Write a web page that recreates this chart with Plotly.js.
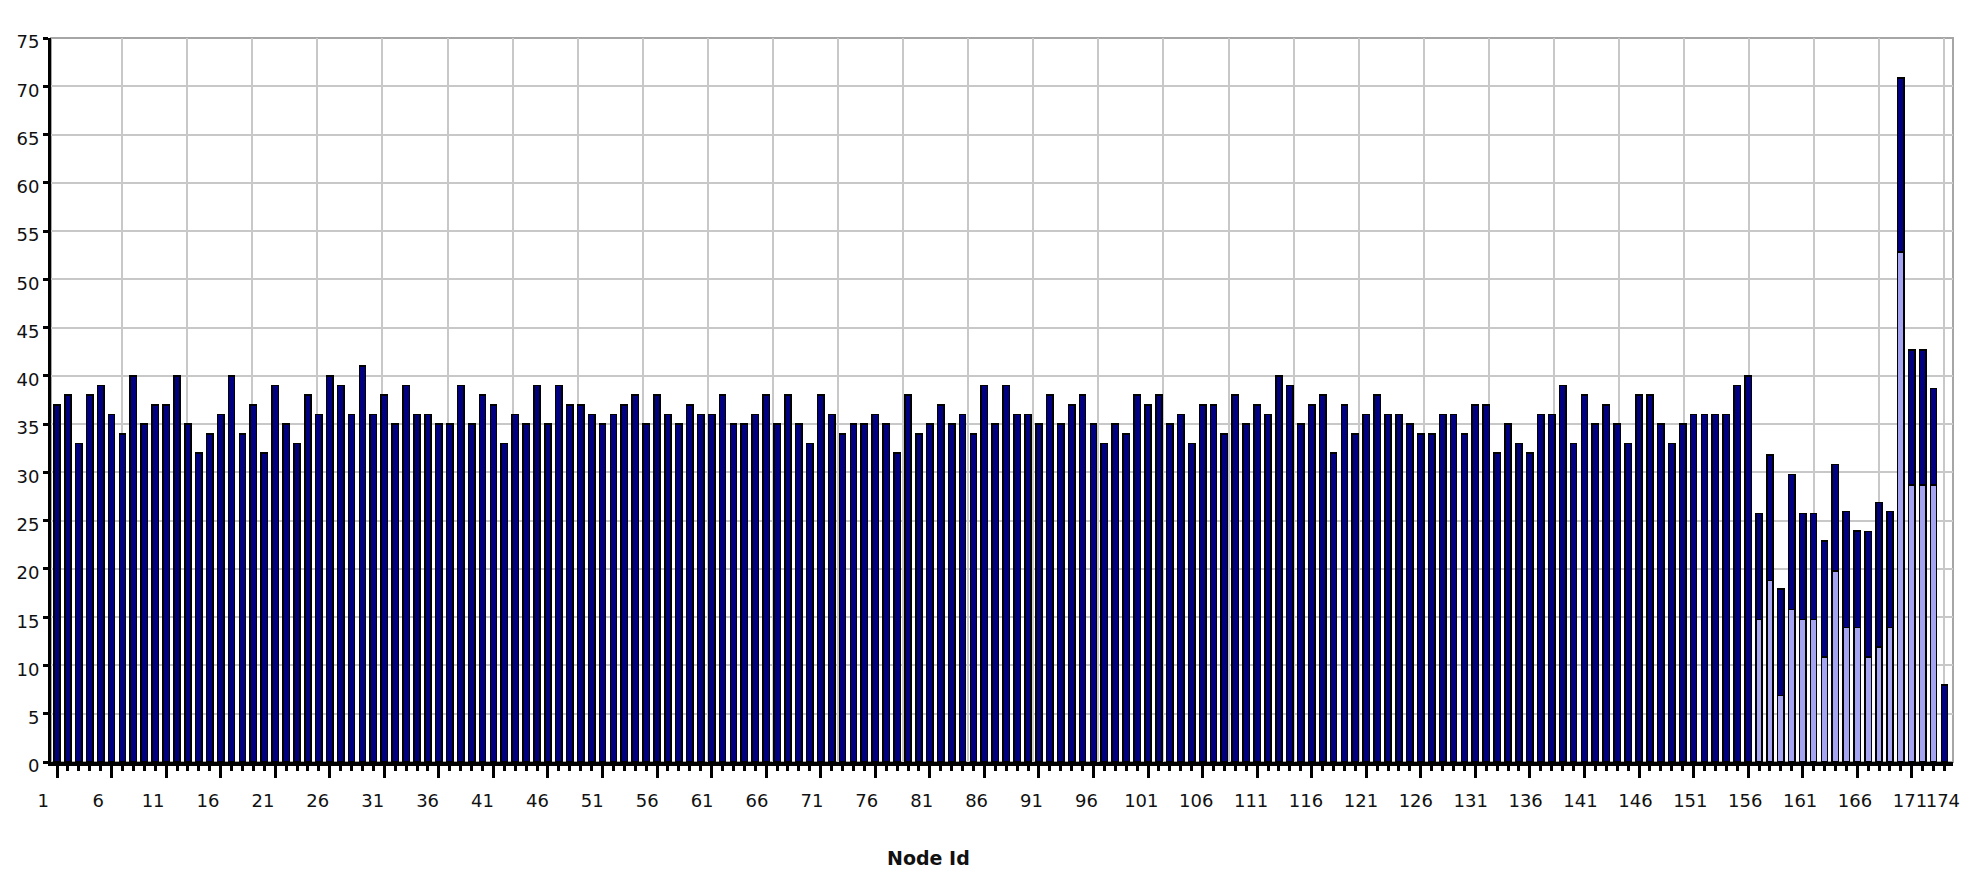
<!DOCTYPE html>
<html>
<head>
<meta charset="utf-8">
<script src="https://cdn.plot.ly/plotly-3.0.1.min.js"></script>
<style>
html, body { margin: 0; padding: 0; background: #ffffff; }
#chart { width: 1979px; height: 888px; }
</style>
</head>
<body>
<div id="chart"></div>
<script>
// ---- data ----
const nodeIds = Array.from({ length: 174 }, (_, i) => i + 1);

// upper (dark) segment of each bar
const darkValues = [
  37, 38, 33, 38, 39, 36, 34, 40, 35, 37, 37, 40, 35, 32, 34, 36, 40, 34, 37, 32, 39, 35, 33, 38, 36, 40, 39, 36, 41, 36,
  38, 35, 39, 36, 36, 35, 35, 39, 35, 38, 37, 33, 36, 35, 39, 35, 39, 37, 37, 36, 35, 36, 37, 38, 35, 38, 36, 35, 37, 36,
  36, 38, 35, 35, 36, 38, 35, 38, 35, 33, 38, 36, 34, 35, 35, 36, 35, 32, 38, 34, 35, 37, 35, 36, 34, 39, 35, 39, 36, 36,
  35, 38, 35, 37, 38, 35, 33, 35, 34, 38, 37, 38, 35, 36, 33, 37, 37, 34, 38, 35, 37, 36, 40, 39, 35, 37, 38, 32, 37, 34,
  36, 38, 36, 36, 35, 34, 34, 36, 36, 34, 37, 37, 32, 35, 33, 32, 36, 36, 39, 33, 38, 35, 37, 35, 33, 38, 38, 35, 33, 35,
  36, 36, 36, 36, 39, 40, 11, 13, 11, 14, 11, 11, 12, 11, 12, 10, 13, 15, 12, 18, 14, 14, 10, 8
];

// lower (light) segment, only present for these nodes
const lightIds = [157, 158, 159, 160, 161, 162, 163, 164, 165, 166, 167, 168, 169, 170, 171, 172, 173];
const lightValues = [14.75, 18.8, 6.9, 15.8, 14.75, 14.75, 10.9, 19.8, 13.95, 13.95, 10.9, 11.9, 13.95, 52.85, 28.7, 28.7, 28.7];

const tickLabelValues = [1, 6, 11, 16, 21, 26, 31, 36, 41, 46, 51, 56, 61, 66, 71, 76, 81, 86, 91, 96,
  101, 106, 111, 116, 121, 126, 131, 136, 141, 146, 151, 156, 161, 166, 171, 174];

const xTitle = 'Node Id';

// ---- styling / layout ----
const FONT = 'DejaVu Sans, Verdana, sans-serif';
const X_RANGE = [0.45, 174.78];
const LABEL_RANGE = [0.9727, 174.195];
const gridCount = 29;
const gridVals = [];
for (let k = 1; k <= gridCount; k++) gridVals.push(1 + k * (nodeIds.length - 1) / gridCount);

const traces = [
  {
    type: 'bar', x: lightIds, y: lightValues, xaxis: 'x', yaxis: 'y',
    marker: { color: '#a4a4f2', line: { color: '#000000', width: 1.5 } },
    hoverinfo: 'skip', showlegend: false
  },
  {
    type: 'bar', x: nodeIds, y: darkValues, xaxis: 'x', yaxis: 'y',
    marker: { color: '#000080', line: { color: '#000000', width: 1.5 } },
    hoverinfo: 'skip', showlegend: false
  },
  { type: 'scatter', mode: 'markers', x: [], y: [], xaxis: 'x2', yaxis: 'y', showlegend: false, hoverinfo: 'skip' },
  { type: 'scatter', mode: 'markers', x: [], y: [], xaxis: 'x3', yaxis: 'y', showlegend: false, hoverinfo: 'skip' }
];

const layout = {
  width: 1979, height: 888,
  margin: { l: 51, r: 26, t: 38, b: 126 },
  paper_bgcolor: '#ffffff', plot_bgcolor: '#ffffff',
  barmode: 'stack', bargap: 0.42,
  showlegend: false, hovermode: false,
  font: { family: FONT, size: 18, color: '#111111' },
  xaxis: {
    range: X_RANGE, showgrid: false, zeroline: false,
    showline: true, linecolor: '#000000', linewidth: 4,
    tickmode: 'linear', tick0: 1, dtick: 5,
    ticks: 'outside', ticklen: 12, tickwidth: 3, tickcolor: '#000000',
    showticklabels: false,
    minor: { tickmode: 'linear', tick0: 1, dtick: 1, ticks: 'outside', ticklen: 5, tickwidth: 3, tickcolor: '#000000', showgrid: false }
  },
  xaxis2: {
    overlaying: 'x', anchor: 'y', side: 'bottom',
    range: LABEL_RANGE, showgrid: false, zeroline: false, showline: false,
    tickmode: 'array', tickvals: tickLabelValues, ticktext: tickLabelValues.map(String),
    ticks: '', tickangle: 0, ticklabelshift: -8, ticklabelstandoff: 26,
    tickfont: { family: FONT, size: 18, color: '#111111' }
  },
  xaxis3: {
    overlaying: 'x', anchor: 'y', side: 'top',
    range: X_RANGE, showgrid: true, gridcolor: '#c8c8c8', gridwidth: 2,
    zeroline: false, showline: false, ticks: '', showticklabels: false,
    tickmode: 'array', tickvals: gridVals
  },
  yaxis: {
    range: [0, 75], tickmode: 'linear', tick0: 0, dtick: 5,
    showgrid: true, gridcolor: '#c8c8c8', gridwidth: 2, zeroline: false,
    showline: true, linecolor: '#000000', linewidth: 3,
    ticks: 'outside', ticklen: 5, tickwidth: 3, tickcolor: '#000000',
    ticklabelshift: 4,
    tickfont: { family: FONT, size: 18, color: '#111111' }
  },
  shapes: [
    { type: 'rect', xref: 'paper', yref: 'paper', x0: 0, x1: 1, y0: 0, y1: 1,
      line: { color: '#a6a6a6', width: 2 }, layer: 'below' }
  ],
  annotations: [
    { text: '<b>' + xTitle + '</b>', xref: 'paper', yref: 'paper', x: 0.4613, y: -0.133,
      xanchor: 'center', yanchor: 'middle', showarrow: false,
      font: { family: FONT, size: 19, color: '#111111' } }
  ]
};

Plotly.newPlot('chart', traces, layout, { staticPlot: true, displayModeBar: false });
</script>
</body>
</html>
